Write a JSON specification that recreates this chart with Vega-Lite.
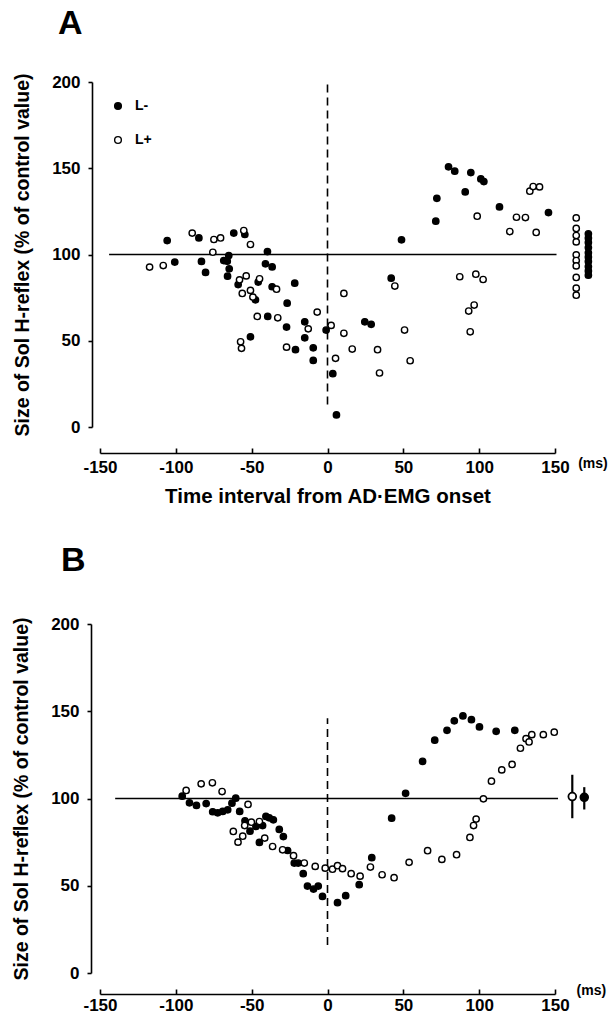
{
  "$schema": "https://vega.github.io/schema/vega-lite/v6.json",
  "background": "white",
  "padding": {"left": 11, "top": 7, "right": 0, "bottom": 0},
  "config": {
    "view": {"stroke": null},
    "font": "Liberation Sans",
    "axis": {
      "grid": false,
      "domain": true,
      "ticks": true,
      "labelFont": "Liberation Sans",
      "labelFontWeight": "bold",
      "labelFontSize": 17,
      "labelColor": "black",
      "labelFlush": false,
      "labelOverlap": false,
      "titleFont": "Liberation Sans",
      "titleFontWeight": "bold",
      "titleFontSize": 19.5,
      "titleColor": "black",
      "domainColor": "black",
      "domainWidth": 1.6,
      "domainOpacity": 1,
      "tickColor": "black",
      "tickWidth": 1.6
    },
    "legend": {
      "labelFont": "Liberation Sans",
      "labelFontWeight": "bold",
      "labelFontSize": 14,
      "labelColor": "black"
    }
  },
  "resolve": {"scale": {"fill": "independent"}, "legend": {"fill": "independent"}},
  "spacing": 37,
  "datasets": {
    "pts": [
      {"panel":"A","group":"L-","t":-105.7,"size":108.1},
      {"panel":"A","group":"L-","t":-100.7,"size":95.6},
      {"panel":"A","group":"L-","t":-84.8,"size":109.6},
      {"panel":"A","group":"L-","t":-83.1,"size":96.0},
      {"panel":"A","group":"L-","t":-80.4,"size":89.6},
      {"panel":"A","group":"L-","t":-68.4,"size":96.5},
      {"panel":"A","group":"L-","t":-66.1,"size":96.1},
      {"panel":"A","group":"L-","t":-65.1,"size":99.4},
      {"panel":"A","group":"L-","t":-64.8,"size":91.7},
      {"panel":"A","group":"L-","t":-65.9,"size":87.4},
      {"panel":"A","group":"L-","t":-61.8,"size":112.4},
      {"panel":"A","group":"L-","t":-54.5,"size":111.6},
      {"panel":"A","group":"L-","t":-58.9,"size":82.6},
      {"panel":"A","group":"L-","t":-50.8,"size":52.3},
      {"panel":"A","group":"L-","t":-47.5,"size":73.7},
      {"panel":"A","group":"L-","t":-45.7,"size":84.0},
      {"panel":"A","group":"L-","t":-40.9,"size":94.6},
      {"panel":"A","group":"L-","t":-39.6,"size":101.7},
      {"panel":"A","group":"L-","t":-36.5,"size":92.8},
      {"panel":"A","group":"L-","t":-36.5,"size":81.3},
      {"panel":"A","group":"L-","t":-39.4,"size":64.1},
      {"panel":"A","group":"L-","t":-26.6,"size":71.8},
      {"panel":"A","group":"L-","t":-21.6,"size":83.4},
      {"panel":"A","group":"L-","t":-27.0,"size":57.9},
      {"panel":"A","group":"L-","t":-21.1,"size":44.8},
      {"panel":"A","group":"L-","t":-15.0,"size":61.0},
      {"panel":"A","group":"L-","t":-15.0,"size":51.7},
      {"panel":"A","group":"L-","t":-9.4,"size":45.9},
      {"panel":"A","group":"L-","t":-9.4,"size":38.6},
      {"panel":"A","group":"L-","t":-0.9,"size":56.2},
      {"panel":"A","group":"L-","t":3.5,"size":30.9},
      {"panel":"A","group":"L-","t":5.9,"size":7.0},
      {"panel":"A","group":"L-","t":24.6,"size":61.0},
      {"panel":"A","group":"L-","t":28.8,"size":59.5},
      {"panel":"A","group":"L-","t":42.0,"size":86.3},
      {"panel":"A","group":"L-","t":48.8,"size":108.5},
      {"panel":"A","group":"L-","t":71.4,"size":119.3},
      {"panel":"A","group":"L-","t":72.1,"size":132.6},
      {"panel":"A","group":"L-","t":79.8,"size":150.8},
      {"panel":"A","group":"L-","t":83.9,"size":148.3},
      {"panel":"A","group":"L-","t":90.8,"size":136.3},
      {"panel":"A","group":"L-","t":94.5,"size":147.5},
      {"panel":"A","group":"L-","t":101.1,"size":143.8},
      {"panel":"A","group":"L-","t":103.1,"size":142.3},
      {"panel":"A","group":"L-","t":113.4,"size":127.6},
      {"panel":"A","group":"L-","t":145.7,"size":124.3},
      {"panel":"A","group":"L-","t":172,"size":112.0},
      {"panel":"A","group":"L-","t":172,"size":109.5},
      {"panel":"A","group":"L-","t":172,"size":107.0},
      {"panel":"A","group":"L-","t":172,"size":104.0},
      {"panel":"A","group":"L-","t":172,"size":101.0},
      {"panel":"A","group":"L-","t":172,"size":98.5},
      {"panel":"A","group":"L-","t":172,"size":96.0},
      {"panel":"A","group":"L-","t":172,"size":93.0},
      {"panel":"A","group":"L-","t":172,"size":90.5},
      {"panel":"A","group":"L-","t":172,"size":88.0},
      {"panel":"A","group":"L+","t":-117.3,"size":92.7},
      {"panel":"A","group":"L+","t":-108.3,"size":93.6},
      {"panel":"A","group":"L+","t":-89.2,"size":112.4},
      {"panel":"A","group":"L+","t":-74.9,"size":108.7},
      {"panel":"A","group":"L+","t":-70.5,"size":109.6},
      {"panel":"A","group":"L+","t":-75.6,"size":101.3},
      {"panel":"A","group":"L+","t":-55.2,"size":113.9},
      {"panel":"A","group":"L+","t":-50.8,"size":105.8},
      {"panel":"A","group":"L+","t":-58.0,"size":85.3},
      {"panel":"A","group":"L+","t":-53.6,"size":87.6},
      {"panel":"A","group":"L+","t":-56.2,"size":77.4},
      {"panel":"A","group":"L+","t":-50.8,"size":79.2},
      {"panel":"A","group":"L+","t":-49.2,"size":75.3},
      {"panel":"A","group":"L+","t":-44.8,"size":85.9},
      {"panel":"A","group":"L+","t":-33.6,"size":79.9},
      {"panel":"A","group":"L+","t":-46.3,"size":64.1},
      {"panel":"A","group":"L+","t":-32.8,"size":63.3},
      {"panel":"A","group":"L+","t":-57.3,"size":49.4},
      {"panel":"A","group":"L+","t":-56.7,"size":45.6},
      {"panel":"A","group":"L+","t":-27.0,"size":46.3},
      {"panel":"A","group":"L+","t":-12.7,"size":56.9},
      {"panel":"A","group":"L+","t":-6.8,"size":66.6},
      {"panel":"A","group":"L+","t":2.4,"size":58.9},
      {"panel":"A","group":"L+","t":5.3,"size":39.8},
      {"panel":"A","group":"L+","t":10.8,"size":77.4},
      {"panel":"A","group":"L+","t":10.8,"size":54.3},
      {"panel":"A","group":"L+","t":16.3,"size":45.2},
      {"panel":"A","group":"L+","t":33.0,"size":44.8},
      {"panel":"A","group":"L+","t":34.3,"size":31.3},
      {"panel":"A","group":"L+","t":44.4,"size":81.7},
      {"panel":"A","group":"L+","t":50.8,"size":56.2},
      {"panel":"A","group":"L+","t":54.5,"size":38.4},
      {"panel":"A","group":"L+","t":87.2,"size":87.1},
      {"panel":"A","group":"L+","t":97.8,"size":88.6},
      {"panel":"A","group":"L+","t":102.6,"size":85.5},
      {"panel":"A","group":"L+","t":96.7,"size":70.7},
      {"panel":"A","group":"L+","t":93.1,"size":67.2},
      {"panel":"A","group":"L+","t":94.1,"size":55.2},
      {"panel":"A","group":"L+","t":98.7,"size":122.2},
      {"panel":"A","group":"L+","t":120.2,"size":113.3},
      {"panel":"A","group":"L+","t":124.6,"size":121.6},
      {"panel":"A","group":"L+","t":130.5,"size":121.4},
      {"panel":"A","group":"L+","t":137.6,"size":112.8},
      {"panel":"A","group":"L+","t":133.4,"size":136.7},
      {"panel":"A","group":"L+","t":135.6,"size":139.4},
      {"panel":"A","group":"L+","t":139.8,"size":139.2},
      {"panel":"A","group":"L+","t":164,"size":121.2},
      {"panel":"A","group":"L+","t":164,"size":115.1},
      {"panel":"A","group":"L+","t":164,"size":111.0},
      {"panel":"A","group":"L+","t":164,"size":107.3},
      {"panel":"A","group":"L+","t":164,"size":99.8},
      {"panel":"A","group":"L+","t":164,"size":96.5},
      {"panel":"A","group":"L+","t":164,"size":93.4},
      {"panel":"A","group":"L+","t":164,"size":86.7},
      {"panel":"A","group":"L+","t":164,"size":80.5},
      {"panel":"A","group":"L+","t":164,"size":76.4},
      {"panel":"B","group":"L-","t":-95.8,"size":101.3},
      {"panel":"B","group":"L-","t":-91.0,"size":97.5},
      {"panel":"B","group":"L-","t":-86.4,"size":96.0},
      {"panel":"B","group":"L-","t":-80.0,"size":97.1},
      {"panel":"B","group":"L-","t":-75.7,"size":92.4},
      {"panel":"B","group":"L-","t":-72.4,"size":91.8},
      {"panel":"B","group":"L-","t":-69.1,"size":92.6},
      {"panel":"B","group":"L-","t":-65.8,"size":93.5},
      {"panel":"B","group":"L-","t":-63.0,"size":97.3},
      {"panel":"B","group":"L-","t":-60.5,"size":100.2},
      {"panel":"B","group":"L-","t":-57.9,"size":92.6},
      {"panel":"B","group":"L-","t":-54.4,"size":87.2},
      {"panel":"B","group":"L-","t":-51.1,"size":81.3},
      {"panel":"B","group":"L-","t":-47.2,"size":84.0},
      {"panel":"B","group":"L-","t":-42.8,"size":84.5},
      {"panel":"B","group":"L-","t":-44.9,"size":74.8},
      {"panel":"B","group":"L-","t":-40.6,"size":89.7},
      {"panel":"B","group":"L-","t":-38.4,"size":88.9},
      {"panel":"B","group":"L-","t":-35.7,"size":87.8},
      {"panel":"B","group":"L-","t":-31.8,"size":82.3},
      {"panel":"B","group":"L-","t":-29.1,"size":78.2},
      {"panel":"B","group":"L-","t":-26.3,"size":70.2},
      {"panel":"B","group":"L-","t":-21.9,"size":63.0},
      {"panel":"B","group":"L-","t":-19.3,"size":63.0},
      {"panel":"B","group":"L-","t":-16.0,"size":56.9},
      {"panel":"B","group":"L-","t":-13.2,"size":49.8},
      {"panel":"B","group":"L-","t":-9.2,"size":48.1},
      {"panel":"B","group":"L-","t":-6.1,"size":49.8},
      {"panel":"B","group":"L-","t":-3.3,"size":43.9},
      {"panel":"B","group":"L-","t":6.6,"size":40.3},
      {"panel":"B","group":"L-","t":12.0,"size":44.3},
      {"panel":"B","group":"L-","t":20.9,"size":50.6},
      {"panel":"B","group":"L-","t":29.2,"size":66.1},
      {"panel":"B","group":"L-","t":42.3,"size":88.7},
      {"panel":"B","group":"L-","t":51.5,"size":103.0},
      {"panel":"B","group":"L-","t":62.7,"size":121.3},
      {"panel":"B","group":"L-","t":70.7,"size":133.4},
      {"panel":"B","group":"L-","t":78.8,"size":139.1},
      {"panel":"B","group":"L-","t":83.6,"size":144.5},
      {"panel":"B","group":"L-","t":89.3,"size":147.3},
      {"panel":"B","group":"L-","t":94.9,"size":145.2},
      {"panel":"B","group":"L-","t":100.2,"size":141.0},
      {"panel":"B","group":"L-","t":111.2,"size":138.5},
      {"panel":"B","group":"L-","t":123.5,"size":139.1},
      {"panel":"B","group":"L+","t":-93.2,"size":104.6},
      {"panel":"B","group":"L+","t":-83.3,"size":108.4},
      {"panel":"B","group":"L+","t":-75.9,"size":109.0},
      {"panel":"B","group":"L+","t":-69.5,"size":104.0},
      {"panel":"B","group":"L+","t":-52.4,"size":96.6},
      {"panel":"B","group":"L+","t":-62.1,"size":81.1},
      {"panel":"B","group":"L+","t":-59.0,"size":75.0},
      {"panel":"B","group":"L+","t":-55.9,"size":78.4},
      {"panel":"B","group":"L+","t":-54.6,"size":84.5},
      {"panel":"B","group":"L+","t":-50.2,"size":86.4},
      {"panel":"B","group":"L+","t":-44.9,"size":86.8},
      {"panel":"B","group":"L+","t":-41.4,"size":77.3},
      {"panel":"B","group":"L+","t":-36.2,"size":72.5},
      {"panel":"B","group":"L+","t":-29.6,"size":70.6},
      {"panel":"B","group":"L+","t":-22.4,"size":67.2},
      {"panel":"B","group":"L+","t":-15.3,"size":63.0},
      {"panel":"B","group":"L+","t":-8.1,"size":61.1},
      {"panel":"B","group":"L+","t":-1.5,"size":60.1},
      {"panel":"B","group":"L+","t":3.3,"size":59.5},
      {"panel":"B","group":"L+","t":6.6,"size":61.5},
      {"panel":"B","group":"L+","t":9.9,"size":59.8},
      {"panel":"B","group":"L+","t":15.6,"size":56.9},
      {"panel":"B","group":"L+","t":21.5,"size":55.5},
      {"panel":"B","group":"L+","t":28.3,"size":60.7},
      {"panel":"B","group":"L+","t":36.0,"size":56.3},
      {"panel":"B","group":"L+","t":43.9,"size":54.6},
      {"panel":"B","group":"L+","t":53.8,"size":63.4},
      {"panel":"B","group":"L+","t":66.0,"size":70.1},
      {"panel":"B","group":"L+","t":75.4,"size":65.1},
      {"panel":"B","group":"L+","t":85.1,"size":67.8},
      {"panel":"B","group":"L+","t":93.9,"size":77.7},
      {"panel":"B","group":"L+","t":96.3,"size":84.5},
      {"panel":"B","group":"L+","t":98.0,"size":88.2},
      {"panel":"B","group":"L+","t":102.8,"size":99.8},
      {"panel":"B","group":"L+","t":108.1,"size":109.9},
      {"panel":"B","group":"L+","t":114.9,"size":116.4},
      {"panel":"B","group":"L+","t":121.7,"size":119.5},
      {"panel":"B","group":"L+","t":127.2,"size":128.8},
      {"panel":"B","group":"L+","t":130.9,"size":134.3},
      {"panel":"B","group":"L+","t":132.9,"size":132.4},
      {"panel":"B","group":"L+","t":134.7,"size":136.6},
      {"panel":"B","group":"L+","t":142.3,"size":136.6},
      {"panel":"B","group":"L+","t":149.5,"size":138.0}
    ],
    "ctrl": [
      {"group":"L+","t":161.4,"size":101.1,"lo":88.7,"hi":113.6},
      {"group":"L-","t":169.3,"size":100.7,"lo":93.7,"hi":106.5}
    ]
  },
  "vconcat": [
    {
      "title": {"text": "A", "anchor": "start", "frame": "group", "fontSize": 34, "fontWeight": "bold", "font": "Liberation Sans", "color": "black", "dx": -42, "offset": 32},
      "width": 455,
      "height": 345,
      "layer": [
        {
          "data": {"values": [{}]},
          "mark": {"type": "rule", "color": "black", "strokeWidth": 1.5},
          "encoding": {"x": {"datum": -144}, "x2": {"datum": 151}, "y": {"datum": 100}}
        },
        {
          "data": {"values": [{}]},
          "mark": {"type": "rule", "color": "black", "strokeWidth": 1.6, "strokeDash": [8, 5]},
          "encoding": {"x": {"datum": 0}, "y": {"datum": 13}, "y2": {"datum": 200}}
        },
        {
          "data": {"name": "pts"},
          "transform": [{"filter": "datum.panel === 'A'"}],
          "mark": {"type": "point", "shape": "circle", "filled": true, "opacity": 1, "stroke": "black", "strokeWidth": 1.4, "size": 40},
          "encoding": {
            "x": {"field": "t", "type": "quantitative", "scale": {"domain": [-150, 150], "nice": false, "zero": false},
                  "axis": {"values": [-150, -100, -50, 0, 50, 100, 150], "labelExpr": "'' + datum.value", "offset": 26, "tickSize": -5, "labelPadding": 11, "domain": true,
                           "title": "Time interval from AD·EMG onset", "titleFontSize": 20.5, "titlePadding": 11}},
            "y": {"field": "size", "type": "quantitative", "scale": {"domain": [0, 200], "nice": false},
                  "axis": {"values": [0, 50, 100, 150, 200], "offset": 8, "tickSize": 4, "labelPadding": 8, "domain": true,
                           "title": "Size of Sol H-reflex (% of control value)", "titlePadding": 19}},
            "fill": {"field": "group", "type": "nominal",
                     "scale": {"domain": ["L-", "L+"], "range": ["black", "white"]},
                     "legend": {"orient": "none", "legendX": 11, "legendY": 17, "title": null, "symbolType": "circle", "symbolSize": 45,
                                "symbolStrokeColor": "black", "symbolStrokeWidth": 1.4, "labelOffset": 10, "rowPadding": 20, "padding": 0}}
          }
        },
        {
          "data": {"values": [{}]},
          "mark": {"type": "text", "text": "(ms)", "font": "Liberation Sans", "fontWeight": "bold", "fontSize": 14, "dy": 37, "align": "center", "baseline": "middle", "color": "black"},
          "encoding": {"x": {"datum": 175}, "y": {"datum": 0}}
        }
      ]
    },
    {
      "title": {"text": "B", "anchor": "start", "frame": "group", "fontSize": 34, "fontWeight": "bold", "font": "Liberation Sans", "color": "black", "dx": -39, "offset": 37},
      "width": 455,
      "height": 349,
      "layer": [
        {
          "data": {"values": [{}]},
          "mark": {"type": "rule", "color": "black", "strokeWidth": 1.5},
          "encoding": {"x": {"datum": -140}, "x2": {"datum": 152}, "y": {"datum": 100}}
        },
        {
          "data": {"values": [{}]},
          "mark": {"type": "rule", "color": "black", "strokeWidth": 1.6, "strokeDash": [8, 5]},
          "encoding": {"x": {"datum": 0}, "y": {"datum": 16}, "y2": {"datum": 146}}
        },
        {
          "data": {"name": "ctrl"},
          "mark": {"type": "rule", "color": "black", "strokeWidth": 2.2},
          "encoding": {"x": {"field": "t", "type": "quantitative"}, "y": {"field": "lo", "type": "quantitative"}, "y2": {"field": "hi"}}
        },
        {
          "data": {"name": "ctrl"},
          "mark": {"type": "point", "shape": "circle", "filled": true, "opacity": 1, "stroke": "black", "strokeWidth": 1.8, "size": 60},
          "encoding": {
            "x": {"field": "t", "type": "quantitative"},
            "y": {"field": "size", "type": "quantitative"},
            "fill": {"field": "group", "type": "nominal", "scale": {"domain": ["L-", "L+"], "range": ["black", "white"]}, "legend": null}
          }
        },
        {
          "data": {"name": "pts"},
          "transform": [{"filter": "datum.panel === 'B'"}],
          "mark": {"type": "point", "shape": "circle", "filled": true, "opacity": 1, "stroke": "black", "strokeWidth": 1.4, "size": 40},
          "encoding": {
            "x": {"field": "t", "type": "quantitative", "scale": {"domain": [-150, 150], "nice": false, "zero": false},
                  "axis": {"values": [-150, -100, -50, 0, 50, 100, 150], "labelExpr": "'' + datum.value", "offset": 21, "tickSize": -5, "labelPadding": 8, "domain": true, "title": null}},
            "y": {"field": "size", "type": "quantitative", "scale": {"domain": [0, 200], "nice": false},
                  "axis": {"values": [0, 50, 100, 150, 200], "offset": 9, "tickSize": 4, "labelPadding": 8, "domain": true,
                           "title": "Size of Sol H-reflex (% of control value)", "titlePadding": 19}},
            "fill": {"field": "group", "type": "nominal",
                     "scale": {"domain": ["L-", "L+"], "range": ["black", "white"]},
                     "legend": {"orient": "none", "legendX": 7, "legendY": 16, "title": null, "symbolType": "circle", "symbolSize": 45,
                                "symbolStrokeColor": "black", "symbolStrokeWidth": 1.4, "labelOffset": 10, "rowPadding": 17, "padding": 0}}
          }
        },
        {
          "data": {"values": [{}]},
          "mark": {"type": "text", "text": "(ms)", "font": "Liberation Sans", "fontWeight": "bold", "fontSize": 14, "dy": 18, "align": "center", "baseline": "middle", "color": "black"},
          "encoding": {"x": {"datum": 174}, "y": {"datum": 0}}
        }
      ]
    }
  ]
}
